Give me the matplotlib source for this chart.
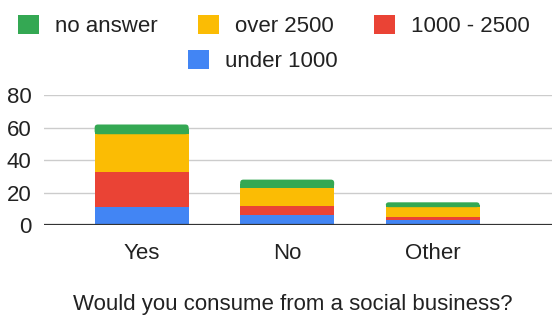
import numpy as np
import matplotlib
matplotlib.use('Agg')
import matplotlib.pyplot as plt
from matplotlib.patches import FancyBboxPatch, Rectangle

plt.rcParams['font.family'] = ['Liberation Sans', 'DejaVu Sans']

# survey answers, stacked by income group
categories = ['Yes', 'No', 'Other']
under_1000 = [11, 6, 3]
from_1000_to_2500 = [22, 6, 2]
over_2500 = [23, 11, 6]
no_answer = [6, 5, 3]

series = [('under 1000', under_1000, '#4285F4'),
          ('1000 - 2500', from_1000_to_2500, '#EA4335'),
          ('over 2500', over_2500, '#FBBC04'),
          ('no answer', no_answer, '#34A853')]

fig = plt.figure(figsize=(5.52, 3.23), dpi=100)
ax = fig.add_axes([0.08, 0.3034, 0.92, 0.4015])
ax.set_xlim(-0.67, 2.82)
ax.set_ylim(0, 80)

x = np.arange(len(categories))
bottom = np.zeros(len(categories))
bars = {}
for name, vals, col in series:
    bars[name] = ax.bar(x, vals, width=0.646, bottom=bottom, color=col, zorder=3)
    bottom += np.array(vals)

# round the top corners of each stack
aspect = (80 / (0.4015 * 323)) / (3.49 / (0.92 * 552))
for r in bars['no answer'].patches:
    r.set_visible(False)
    x0, y0, w, h = r.get_x(), r.get_y(), r.get_width(), r.get_height()
    ax.add_patch(FancyBboxPatch((x0, y0), w, h,
                                boxstyle='round,pad=0,rounding_size=0.022',
                                mutation_aspect=aspect, fc=r.get_facecolor(),
                                ec='none', zorder=3))
    ax.add_patch(Rectangle((x0, y0), w, h / 2, fc=r.get_facecolor(), ec='none', zorder=3))

ax.set_yticks([0, 20, 40, 60, 80])
ax.yaxis.grid(True, color='#cccccc', lw=1, zorder=0)
ax.axhline(0, color='#333333', lw=1.6, zorder=4)
for s in ax.spines.values():
    s.set_visible(False)
ax.tick_params(axis='y', length=0, pad=9, labelsize=16, labelcolor='#222222')
ax.tick_params(axis='x', length=0, pad=13, labelsize=16, labelcolor='#222222')
ax.set_xticks(x)
ax.set_xticklabels(categories)

fig.text(0.53, 0.056, 'Would you consume from a social business?', ha='center',
         va='center', fontsize=16, color='#222222')

# legend: first row of three, second row centred
cols = {name: col for name, vals, col in series}
def swatch(name):
    return Rectangle((0, 0), 1, 1, fc=cols[name], ec='none')

leg_kw = dict(frameon=False, fontsize=16, handlelength=0.95, handleheight=0.95,
              handletextpad=0.72, labelcolor='#222222', loc='center')
row1 = ['no answer', 'over 2500', '1000 - 2500']
fig.legend([swatch(n) for n in row1], row1, ncol=3,
           bbox_to_anchor=(0.496, 0.919), columnspacing=1.82, **leg_kw)
fig.legend([swatch('under 1000')], ['under 1000'],
           bbox_to_anchor=(0.476, 0.811), **leg_kw)

fig.savefig('out.png', dpi=100)
